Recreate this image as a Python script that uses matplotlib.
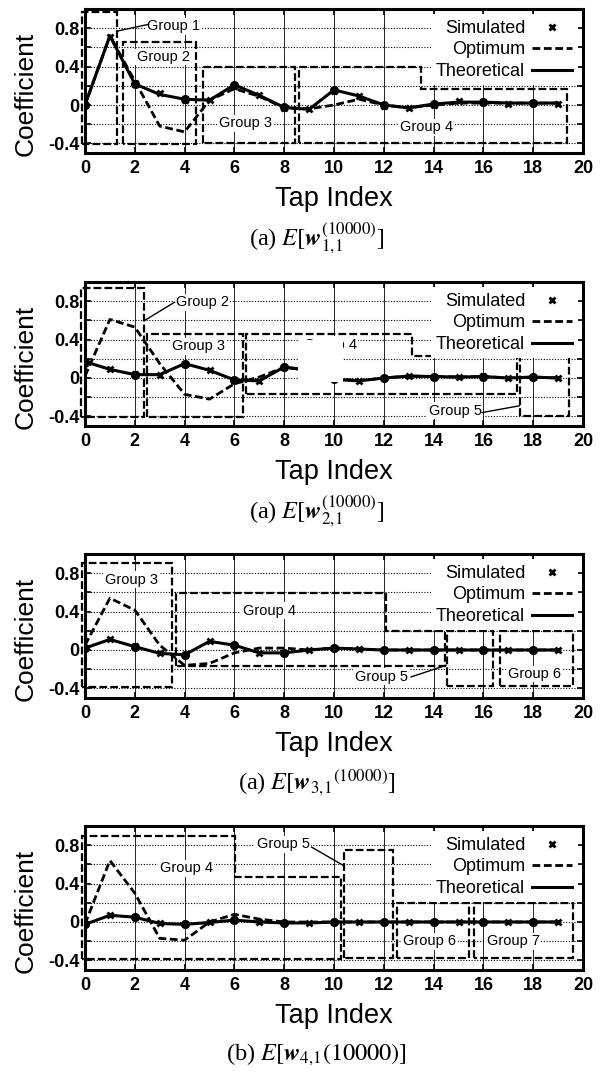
import matplotlib
matplotlib.use("Agg")
import matplotlib.pyplot as plt
from matplotlib.patches import Polygon, Rectangle
from matplotlib.lines import Line2D
from matplotlib.ticker import FixedLocator, FuncFormatter

plt.rcParams["mathtext.fontset"] = "stix"

SANS = ["Liberation Sans", "DejaVu Sans"]
SERIF = ["Liberation Serif", "DejaVu Serif"]

taps = list(range(20))

# --- panel 1 : w_{1,1}
sim1 = [0.0, 0.71, 0.23, 0.12, 0.05, 0.05, 0.20, 0.10, -0.03, -0.04,
        0.15, 0.09, -0.01, -0.03, 0.00, 0.04, 0.03, 0.01, 0.02, 0.01]
opt1 = [0.0, 0.72, 0.25, -0.22, -0.28, 0.05, 0.17, 0.09, -0.03, -0.04,
        0.00, 0.06, 0.00, -0.03, 0.00, 0.02, 0.02, 0.02, 0.02, 0.02]
theo1 = [0.0, 0.72, 0.22, 0.11, 0.06, 0.05, 0.21, 0.10, -0.025, -0.045,
         0.157, 0.094, 0.0, -0.03, 0.01, 0.03, 0.03, 0.02, 0.02, 0.02]

# --- panel 2 : w_{2,1}
sim2 = [0.16, 0.09, 0.04, 0.03, 0.15, 0.08, -0.02, -0.03, 0.11, 0.08,
        0.00, -0.03, 0.00, 0.02, 0.01, 0.01, 0.02, 0.00, 0.01, 0.00]
opt2 = [0.02, 0.61, 0.53, 0.15, -0.17, -0.22, -0.06, 0.01, 0.11, 0.08,
        0.00, -0.03, 0.00, 0.02, 0.015, 0.01, 0.015, 0.00, 0.01, 0.00]
theo2 = [0.17, 0.09, 0.035, 0.035, 0.15, 0.08, -0.02, -0.03, 0.115, 0.08,
         -0.015, -0.03, 0.0, 0.02, 0.015, 0.01, 0.015, 0.0, 0.01, 0.0]

# --- panel 3 : w_{3,1}
sim3 = [0.02, 0.11, 0.04, -0.03, -0.05, 0.09, 0.05, -0.03, -0.03, 0.00,
        0.02, 0.01, 0.00, 0.00, 0.00, 0.00, 0.00, 0.00, 0.00, 0.00]
opt3 = [0.05, 0.54, 0.415, 0.05, -0.16, -0.14, -0.03, 0.02, 0.02, 0.00,
        0.02, 0.01, 0.00, 0.00, 0.00, 0.00, 0.00, 0.00, 0.00, 0.00]
theo3 = [0.02, 0.11, 0.035, -0.035, -0.05, 0.09, 0.05, -0.03, -0.03, 0.0,
         0.02, 0.01, 0.0, 0.0, 0.0, 0.0, 0.0, 0.0, 0.0, 0.0]

# --- panel 4 : w_{4,1}
sim4 = [-0.02, 0.07, 0.05, -0.01, -0.02, 0.00, 0.02, 0.00, -0.01, -0.01,
        0.00, 0.00, 0.00, 0.00, 0.00, 0.00, 0.00, 0.00, 0.00, 0.00]
opt4 = [-0.02, 0.64, 0.30, -0.17, -0.19, 0.00, 0.08, 0.03, 0.00, 0.00,
        0.00, 0.00, 0.00, 0.00, 0.00, 0.00, 0.00, 0.00, 0.00, 0.00]
theo4 = [-0.025, 0.07, 0.05, -0.015, -0.025, -0.005, 0.02, 0.0, -0.01, -0.01,
         0.0, 0.0, 0.0, 0.0, 0.0, 0.0, 0.0, 0.0, 0.0, 0.0]

# group boxes (outline vertices) and labels: (text, x, y, leader line or None)
boxes1 = [
    [(-0.12, -0.41), (-0.12, 0.97), (1.3, 0.97), (1.3, -0.41)],
    [(1.54, -0.41), (1.54, 0.66), (4.46, 0.66), (4.46, -0.41)],
    [(4.73, -0.40), (4.73, 0.40), (8.42, 0.40), (8.42, -0.40)],
    [(8.6, -0.40), (8.6, 0.40), (13.5, 0.40), (13.5, 0.165), (19.35, 0.165), (19.35, -0.40)],
]
labels1 = [("Group 1", 3.55, 0.82, ((1.3, 0.77), (2.55, 0.84))),
           ("Group 2", 3.15, 0.50, None),
           ("Group 3", 6.43, -0.19, None),
           ("Group 4", 13.7, -0.23, None)]

boxes2 = [
    [(-0.17, -0.405), (-0.17, 0.94), (2.38, 0.94), (2.38, -0.405)],
    [(2.5, -0.405), (2.5, 0.46), (6.33, 0.46), (6.33, -0.405)],
    [(6.47, -0.17), (6.47, 0.46), (13.15, 0.46), (13.15, 0.23), (17.33, 0.23), (17.33, -0.17)],
    [(17.47, -0.40), (17.47, 0.23), (19.45, 0.23), (19.45, -0.40)],
]
labels2 = [("Group 2", 4.7, 0.79, ((2.4, 0.60), (3.6, 0.79))),
           ("Group 3", 4.55, 0.33, None),
           ("Group 4", 9.85, 0.345, None),
           ("Group 5", 14.86, -0.34, ((15.95, -0.36), (17.44, -0.29)))]

boxes3 = [
    [(-0.13, -0.39), (-0.13, 0.905), (3.49, 0.905), (3.49, -0.39)],
    [(3.66, -0.17), (3.66, 0.596), (12.1, 0.596), (12.1, 0.195), (14.46, 0.195), (14.46, -0.17)],
    [(14.55, -0.37), (14.55, 0.195), (16.4, 0.195), (16.4, -0.37)],
    [(16.67, -0.37), (16.67, 0.195), (19.6, 0.195), (19.6, -0.37)],
]
labels3 = [("Group 3", 1.85, 0.73, None),
           ("Group 4", 7.4, 0.41, None),
           ("Group 5", 11.9, -0.28, ((13.1, -0.28), (14.5, -0.16))),
           ("Group 6", 18.07, -0.25, None)]

boxes4 = [
    [(-0.13, -0.39), (-0.13, 0.90), (6.04, 0.90), (6.04, 0.467), (10.27, 0.467), (10.27, -0.39)],
    [(10.4, -0.37), (10.4, 0.747), (12.35, 0.747), (12.35, -0.37)],
    [(12.54, -0.375), (12.54, 0.196), (15.44, 0.196), (15.44, -0.375)],
    [(15.62, -0.375), (15.62, 0.196), (19.6, 0.196), (19.6, -0.375)],
]
labels4 = [("Group 4", 4.07, 0.56, None),
           ("Group 5", 7.96, 0.81, ((9.1, 0.78), (10.37, 0.59))),
           ("Group 6", 13.85, -0.20, None),
           ("Group 7", 17.2, -0.20, None)]

captions = [r"(a) $E[\mathbfit{w}_{1{,}1}^{(10000)}]$",
            r"(a) $E[\mathbfit{w}_{2{,}1}^{(10000)}]$",
            r"(a) $E[\mathbfit{w}_{3{,}1}{}^{(10000)}]$",
            r"(b) $E[\mathbfit{w}_{4{,}1}(10000)]$"]

OPT_DASH = (0, (2.8, 1.3))
BOX_DASH = (0, (3.5, 1.4))


def draw_panel(ax, sim, opt, theo, boxes, labels, caption):
    ax.set_xlim(0, 20)
    ax.set_ylim(-0.5, 1.0)

    for verts in boxes:
        ax.add_patch(Polygon(verts, closed=True, fill=False, ec="black",
                             lw=1.6, ls=BOX_DASH, clip_on=False, zorder=2))

    ax.plot(taps, opt, color="black", lw=2.0, ls=OPT_DASH, zorder=3)
    ax.plot(taps, theo, color="black", lw=2.2, zorder=3)
    ax.plot(taps[::2], theo[::2], ls="none", marker="o", ms=5.5,
            color="black", zorder=4)
    ax.plot(taps, sim, ls="none", marker="x", ms=5, mew=2,
            color="black", zorder=4)

    for text, x, y, leader in labels:
        ax.text(x, y, text, ha="center", va="center", fontsize=10.5,
                family=SANS, zorder=5,
                bbox=dict(facecolor="white", edgecolor="none", pad=1))
        if leader is not None:
            (x1, y1), (x2, y2) = leader
            ax.plot([x1, x2], [y1, y2], color="black", lw=1.0, zorder=5)

    # axes, ticks, grid
    ax.xaxis.set_major_locator(FixedLocator(range(0, 21, 2)))
    ax.yaxis.set_major_locator(FixedLocator([-0.4, 0, 0.4, 0.8]))
    ax.yaxis.set_minor_locator(FixedLocator([-0.2, 0.2, 0.6]))
    ax.yaxis.set_major_formatter(FuncFormatter(lambda v, p: f"{v:g}"))
    ax.grid(axis="x", which="major", color="black", lw=0.6, ls="-")
    ax.grid(axis="y", which="both", color="black", lw=0.8, ls=(0, (1, 1.5)))
    ax.set_axisbelow(True)
    ax.tick_params(which="both", direction="in", top=True, right=True,
                   length=4, width=1.2)
    ax.tick_params(axis="x", which="major", pad=5)
    ax.tick_params(axis="y", which="major", pad=4)
    for lab in ax.get_xticklabels() + ax.get_yticklabels():
        lab.set_family(SANS)
        lab.set_fontsize(13)
        lab.set_fontweight("bold")
    for sp in ax.spines.values():
        sp.set_linewidth(2.2)

    handles = [Line2D([], [], ls="none", marker="x", ms=5, mew=2, color="black"),
               Line2D([], [], ls=OPT_DASH, lw=2.0, color="black"),
               Line2D([], [], lw=2.2, color="black")]
    leg = ax.legend(handles, ["Simulated", "Optimum", "Theoretical"],
                    loc="upper right", markerfirst=False, frameon=True,
                    fancybox=False, edgecolor="none", facecolor="white",
                    framealpha=1, prop={"family": SANS, "size": 13},
                    handlelength=2.2, handletextpad=0.4, labelspacing=0.25,
                    borderpad=0.3, borderaxespad=0.3)
    leg.set_zorder(6)

    ax.text(-0.12, 0.41, "Coefficient", transform=ax.transAxes,
            rotation=90, ha="center", va="center", fontsize=19, family=SANS)
    ax.text(0.5, -0.32, "Tap Index", transform=ax.transAxes,
            ha="center", va="center", fontsize=19.5, family=SANS)
    ax.text(0.465, -0.59, caption, transform=ax.transAxes,
            ha="center", va="center", fontsize=17.5, family=SERIF)


fig = plt.figure(figsize=(6.02, 10.72), dpi=100)
W, H = 602, 1072
tops = [9, 282, 554, 826]
panels = [(sim1, opt1, theo1, boxes1, labels1),
          (sim2, opt2, theo2, boxes2, labels2),
          (sim3, opt3, theo3, boxes3, labels3),
          (sim4, opt4, theo4, boxes4, labels4)]

axes = []
for top, (sim, opt, theo, boxes, labels), cap in zip(tops, panels, captions):
    ax = fig.add_axes([85 / W, 1 - (top + 144) / H, 498 / W, 144 / H])
    draw_panel(ax, sim, opt, theo, boxes, labels, cap)
    axes.append(ax)

# white scan blot hiding part of the "Group 4" label in the second panel
axes[1].add_patch(Rectangle((8.55, -0.04), 1.8, 0.44, facecolor="white",
                            edgecolor="none", zorder=5.5))

fig.savefig("out.png", dpi=100)
